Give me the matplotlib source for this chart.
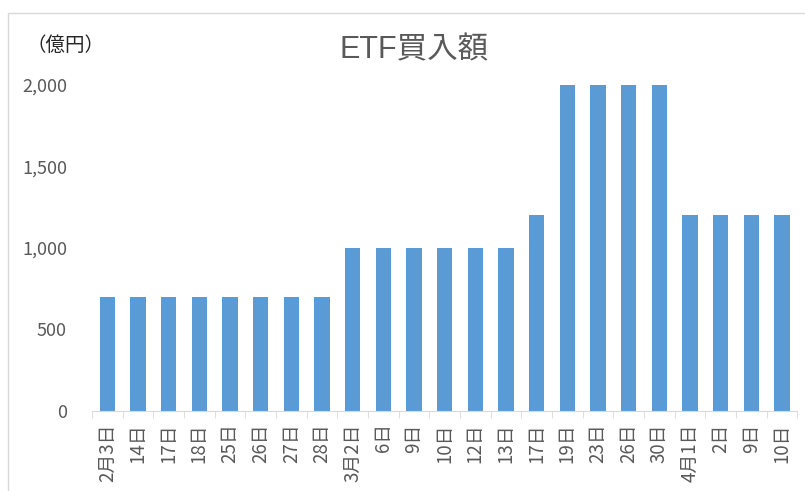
from matplotlib import pyplot as plt
from matplotlib.patches import Rectangle
import numpy as np

plt.rcParams['font.family'] = ['Noto Sans CJK JP', 'DejaVu Sans']

# ETF purchases by date (億円)
dates = ['2月3日', '14日', '17日', '18日', '25日', '26日', '27日', '28日',
         '3月2日', '6日', '9日', '10日', '12日', '13日', '17日', '19日',
         '23日', '26日', '30日', '4月1日', '2日', '9日', '10日']
amounts = [700, 700, 700, 700, 700, 700, 700, 700,
           1000, 1000, 1000, 1000, 1000, 1000, 1200, 2000,
           2000, 2000, 2000, 1200, 1200, 1200, 1200]
yticks = [0, 500, 1000, 1500, 2000]

fig = plt.figure(figsize=(8.05, 4.91), dpi=100)
ax = fig.add_axes([0.1143, 0.163, 0.876, 0.664])

# chart area border
fig.patches.append(Rectangle((8 / 805, -0.1), 1.0, 1 - 13 / 491 + 0.1,
                             transform=fig.transFigure, fill=False,
                             edgecolor='#d9d9d9', linewidth=1))

x = np.arange(len(dates))
ax.bar(x, amounts, width=0.5, color='#5b9bd5')

ax.set_xlim(-0.5, len(dates) - 0.5)
ax.set_ylim(0, 2000)
ax.set_yticks(yticks)
ax.set_yticklabels([f'{v:,}' for v in yticks], fontsize=13, color='#595959')
ax.tick_params(axis='y', length=0, pad=18)

ax.set_xticks(x)
ax.set_xticklabels(dates, rotation=90, fontsize=13.5, color='#595959', va='top')
ax.set_xticks(np.arange(-0.5, len(dates)), minor=True)
ax.tick_params(axis='x', which='major', length=0, pad=9)
ax.tick_params(axis='x', which='minor', length=5, color='#d9d9d9')

for side in ['left', 'right', 'top']:
    ax.spines[side].set_visible(False)
ax.spines['bottom'].set_color('#d9d9d9')

fig.text(414 / 805, 1 - 50 / 491, 'ETF買入額', ha='center', va='center',
         fontsize=22, color='#595959',
         family=['Liberation Sans', 'Noto Sans CJK JP'])
fig.text(27 / 805, 1 - 45 / 491, '（億円）', ha='left', va='center',
         fontsize=14, color='#262626')

fig.savefig('out.png', dpi=100)
